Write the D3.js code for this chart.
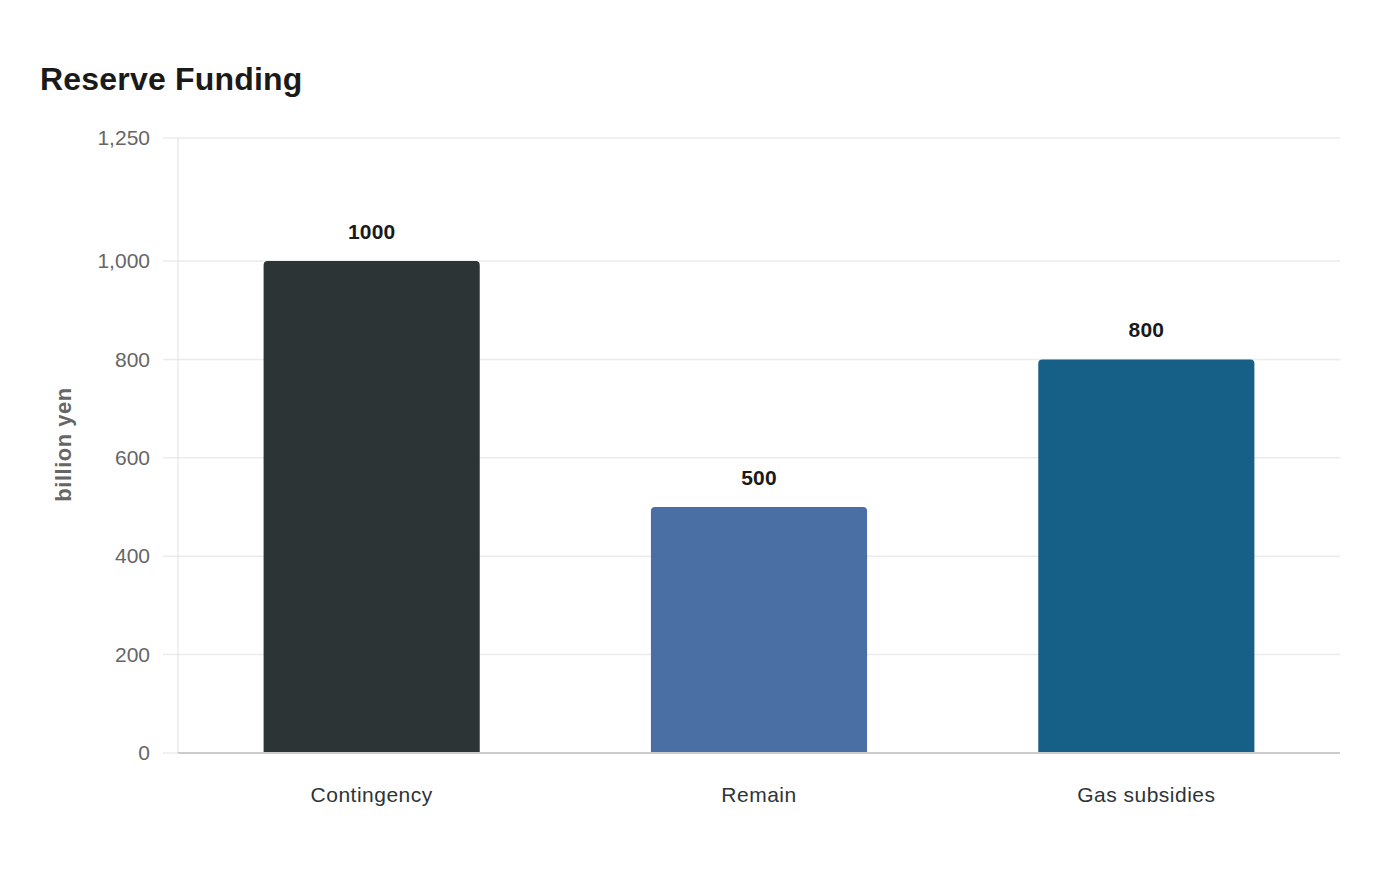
<!DOCTYPE html>
<html>
<head>
<meta charset="utf-8">
<script src="https://cdn.jsdelivr.net/npm/d3@7"></script>
<style>
  body { margin: 0; background: #fff; }
  svg { font-family: "Liberation Sans", Arial, sans-serif; }
</style>
</head>
<body>
<div id="chart"></div>
<script>
var categories = ['Contingency', 'Remain', 'Gas subsidies'];
var values = [1000, 500, 800];
var colors = ['#2d3436', '#4a6fa5', '#166088'];
var yTicks = [0, 200, 400, 600, 800, 1000, 1250];

var width = 1400, height = 880;
var margin = {top: 138, right: 60, bottom: 127, left: 178};
var innerW = width - margin.left - margin.right;
var innerH = height - margin.top - margin.bottom;

var svg = d3.select('#chart')
    .append('svg')
    .attr('width', width)
    .attr('height', height);

svg.append('text')
    .attr('x', 40)
    .attr('y', 90)
    .attr('font-size', 32)
    .attr('font-weight', 'bold')
    .attr('letter-spacing', 0.2)
    .attr('fill', '#1a1a1a')
    .text('Reserve Funding');

var g = svg.append('g')
    .attr('transform', `translate(${margin.left},${margin.top})`);

var x = d3.scaleBand()
    .domain(categories)
    .range([0, innerW])
    .paddingInner(0.442)
    .paddingOuter(0.221);

var y = d3.scaleLinear()
    .domain([0, 1250])
    .range([innerH, 0]);

// gridlines
g.append('g')
    .selectAll('line')
    .data(yTicks)
    .enter()
    .append('line')
    .attr('x1', -15)
    .attr('x2', innerW)
    .attr('y1', function(d) { return y(d); })
    .attr('y2', function(d) { return y(d); })
    .attr('stroke', '#ebebeb')
    .attr('stroke-width', 1.5);

// y axis line
g.append('line')
    .attr('x1', 0).attr('x2', 0)
    .attr('y1', 0).attr('y2', innerH)
    .attr('stroke', '#e0e0e0')
    .attr('stroke-width', 1);

var yAxis = d3.axisLeft(y)
    .tickValues(yTicks)
    .tickFormat(d3.format(','))
    .tickSize(0)
    .tickPadding(28);

var yg = g.append('g').call(yAxis);
yg.select('.domain').remove();
yg.selectAll('text')
    .attr('font-size', 21)
    .attr('fill', '#666')
    .attr('font-family', '"Liberation Sans", Arial, sans-serif');

// bars with rounded top corners
var r = 4;
g.selectAll('.bar')
    .data(values)
    .enter()
    .append('path')
    .attr('class', 'bar')
    .attr('fill', function(d, i) { return colors[i]; })
    .attr('d', function(d, i) {
        var x0 = x(categories[i]), w = x.bandwidth();
        var y0 = y(d), y1 = y(0);
        return `M${x0},${y1}V${y0 + r}Q${x0},${y0} ${x0 + r},${y0}` +
            `H${x0 + w - r}Q${x0 + w},${y0} ${x0 + w},${y0 + r}V${y1}Z`;
    });

// value labels
g.selectAll('.val')
    .data(values)
    .enter()
    .append('text')
    .attr('class', 'val')
    .attr('x', function(d, i) { return x(categories[i]) + x.bandwidth() / 2; })
    .attr('y', function(d) { return y(d) - 22; })
    .attr('text-anchor', 'middle')
    .attr('font-size', 21)
    .attr('font-weight', 'bold')
    .attr('letter-spacing', 0.2)
    .attr('fill', '#1a1a1a')
    .text(function(d) { return d; });

// x axis baseline
g.append('line')
    .attr('x1', 0).attr('x2', innerW)
    .attr('y1', innerH).attr('y2', innerH)
    .attr('stroke', '#cccccc')
    .attr('stroke-width', 2);

var xAxis = d3.axisBottom(x)
    .tickSize(0)
    .tickPadding(34);

var xg = g.append('g')
    .attr('transform', `translate(0,${innerH})`)
    .call(xAxis);
xg.select('.domain').remove();
xg.selectAll('text')
    .attr('font-size', 21)
    .attr('letter-spacing', 0.5)
    .attr('fill', '#2d3436')
    .attr('font-family', '"Liberation Sans", Arial, sans-serif');

// y axis title
svg.append('text')
    .attr('transform', `translate(71,${margin.top + innerH / 2 - 1}) rotate(-90)`)
    .attr('text-anchor', 'middle')
    .attr('font-size', 22)
    .attr('font-weight', 'bold')
    .attr('letter-spacing', 0.5)
    .attr('fill', '#666')
    .text('billion yen');
</script>
</body>
</html>
